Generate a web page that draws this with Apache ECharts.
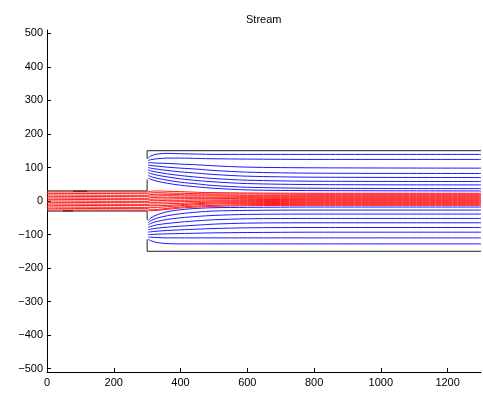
<!DOCTYPE html>
<html>
<head>
<meta charset="utf-8">
<script src="https://cdn.jsdelivr.net/npm/echarts@6/dist/echarts.min.js"></script>
<style>html,body{margin:0;padding:0;background:#fff;}#c{width:483px;height:394px;}</style>
</head>
<body>
<div id="c"></div>
<script>
// Tick values
const xTicks = [0, 200, 400, 600, 800, 1000, 1200];
const yTicks = [-500, -400, -300, -200, -100, 0, 100, 200, 300, 400, 500];

// Channel walls (gaps where the streamlines start)
const wallX = [0, 300, 300, 300, 300, 300, 1300];
const wallTopY = [30, 30, 64, null, 125, 150, 150];
const wallBotY = [-30, -30, -56, null, -115, -150, -150];

// Red streamlines (core jet): stations and y values
const redX = [0, 300, 310, 330, 360, 400, 450, 500, 600, 800, 1300];
const redLines = [
  [27, 27, 29, 30, 29, 28, 26, 25, 24, 23, 23],
  [22, 23, 24, 25, 24, 23, 22, 21, 21, 20, 20],
  [18, 17, 19, 20, 20, 19, 18, 18, 17, 17, 17],
  [13, 14, 15, 15, 16, 15, 15, 15, 14, 14, 14],
  [9, 8, 10, 11, 11, 11, 11, 11, 11, 11, 11],
  [4, 5, 5, 6, 6, 7, 7, 7, 8, 8, 8],
  [0, -1, 1, 1, 2, 2, 3, 3, 4, 5, 5],
  [-5, -4, -4, -4, -3, -2, -1, 0, 1, 2, 2],
  [-9, -10, -9, -9, -8, -7, -5, -3, -2, -1, -1],
  [-14, -13, -14, -14, -13, -11, -8, -6, -5, -4, -4],
  [-18, -19, -19, -19, -17, -14, -11, -9, -8, -7, -7],
  [-23, -22, -25, -25, -22, -18, -15, -13, -11, -10, -10],
  [-27, -27, -29, -28, -25, -21, -18, -16, -14, -13, -13]
];

// Blue streamlines (expansion region): stations and y values
const blueX = [303, 310, 330, 360, 400, 450, 500, 600, 800, 1300];
const blueTopLines = [
  [128, 134, 140, 142, 141, 140, 139, 139, 139, 139],
  [121, 123, 126, 128, 128, 127, 126, 125, 124, 124],
  [114, 114, 113, 112, 110, 108, 105, 101, 99, 98],
  [107, 106, 104, 101, 98, 95, 91, 86, 83, 82],
  [100, 98, 95, 91, 87, 83, 79, 74, 71, 70],
  [93, 90, 86, 81, 76, 71, 67, 62, 59, 58],
  [85, 82, 77, 72, 66, 61, 57, 52, 49, 48],
  [77, 73, 68, 62, 56, 51, 46, 41, 38, 37],
  [69, 65, 59, 53, 47, 42, 38, 33, 31, 30]
];
const blueBotLines = [
  [-58, -51, -41, -32, -26, -22, -20, -19, -18, -18],
  [-65, -59, -51, -44, -38, -33, -30, -28, -27, -27],
  [-72, -67, -61, -55, -50, -46, -43, -40, -39, -39],
  [-79, -76, -71, -67, -63, -59, -56, -53, -52, -52],
  [-86, -84, -81, -78, -75, -72, -69, -66, -65, -65],
  [-93, -92, -90, -88, -86, -84, -82, -80, -79, -79],
  [-100, -100, -99, -98, -97, -96, -95, -94, -93, -93],
  [-107, -108, -109, -110, -110, -110, -110, -110, -110, -110],
  [-114, -118, -124, -127, -128, -128, -128, -128, -128, -128]
];

// Short dark-red traces lying on the narrow channel walls
const traceTopX = [78, 120];
const traceTopY = [29.5, 29.5];
const traceBotX = [48, 78];
const traceBotY = [-29.5, -29.5];

function pts(xs, ys) {
  return xs.map((x, i) => [x, ys[i] === null ? '-' : ys[i]]);
}
const minus = v => String(v).replace('-', '\u2212');

const series = [];
redLines.forEach(ys => series.push({
  type: 'line', data: pts(redX, ys), showSymbol: false, smooth: 0.3,
  lineStyle: { color: '#ff1a1a', width: 1 }, silent: true, z: 3
}));
blueTopLines.concat(blueBotLines).forEach(ys => series.push({
  type: 'line', data: pts(blueX, ys), showSymbol: false, smooth: 0.3,
  lineStyle: { color: '#1a1aff', width: 1 }, silent: true, z: 3
}));
[[wallX, wallTopY], [wallX, wallBotY]].forEach(([xs, ys]) => series.push({
  type: 'line', data: pts(xs, ys), showSymbol: false, connectNulls: false,
  lineStyle: { color: '#222', width: 1 }, silent: true, z: 2
}));
[[traceTopX, traceTopY], [traceBotX, traceBotY]].forEach(([xs, ys]) => series.push({
  type: 'line', data: pts(xs, ys), showSymbol: false,
  lineStyle: { color: '#7a1010', width: 1.2 }, silent: true, z: 4
}));

const chart = echarts.init(document.getElementById('c'), null, { renderer: 'canvas' });
chart.setOption({
  animation: false,
  backgroundColor: '#fff',
  title: {
    text: 'Stream', left: 241, top: 9,
    textStyle: { fontSize: 11, fontWeight: 'normal', color: '#000', fontFamily: 'Liberation Sans, Arial, sans-serif' }
  },
  grid: { left: 47, right: 2, top: 30, bottom: 22, containLabel: false },
  xAxis: {
    type: 'value', min: 0, max: 1300,
    axisLine: { show: true, onZero: false, lineStyle: { color: '#000', width: 1 } },
    axisTick: { show: true, inside: true, length: 4, customValues: xTicks, lineStyle: { color: '#000' } },
    axisLabel: { customValues: xTicks, formatter: minus, color: '#000', fontSize: 11, margin: 5, fontFamily: 'Liberation Sans, Arial, sans-serif' },
    splitLine: { show: false }
  },
  yAxis: {
    type: 'value', min: -510, max: 510,
    axisLine: { show: true, onZero: false, lineStyle: { color: '#000', width: 1 } },
    axisTick: { show: true, inside: true, length: 4, customValues: yTicks, lineStyle: { color: '#000' } },
    axisLabel: { customValues: yTicks, formatter: minus, color: '#000', fontSize: 11, margin: 4, fontFamily: 'Liberation Sans, Arial, sans-serif' },
    splitLine: { show: false }
  },
  series: series
});
</script>
</body>
</html>
